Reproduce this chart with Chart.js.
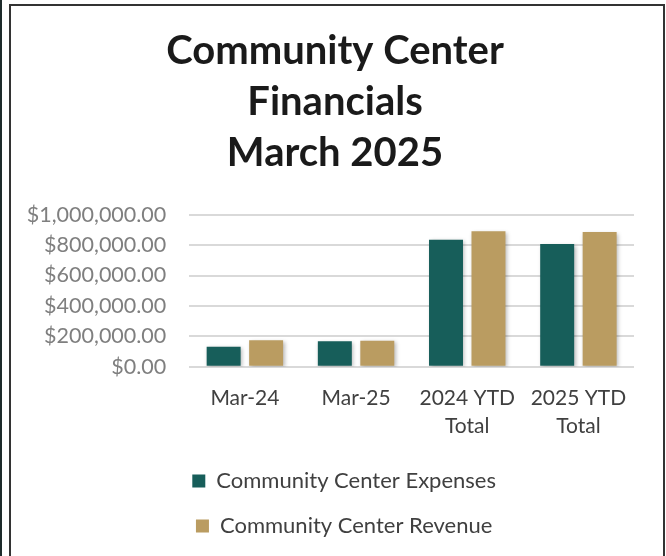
<!DOCTYPE html>
<html><head><meta charset="utf-8">
<script src="https://cdn.jsdelivr.net/npm/chart.js@4.4.1/dist/chart.umd.min.js"></script>
<style>
html,body{margin:0;padding:0;background:#fff;width:666px;height:556px;overflow:hidden;}
#wrap{position:absolute;left:0;top:0;width:666px;height:556px;}
#frame{position:absolute;left:9px;top:4px;width:652px;height:600px;border:2px solid #333;pointer-events:none;}
#edge{position:absolute;left:0;top:0;width:2px;height:556px;background:#1e2b2b;}
</style></head><body>
<div id="wrap"><canvas id="c" width="666" height="556" style="width:666px;height:556px"></canvas></div>
<div id="frame"></div><div id="edge"></div>
<script>
const titleLines = ['Community Center', 'Financials', 'March 2025'];
const categories = [['Mar-24'], ['Mar-25'], ['2024 YTD', 'Total'], ['2025 YTD', 'Total']];
const seriesNames = ['Community Center Expenses', 'Community Center Revenue'];
const expenses = [132000, 167000, 836000, 807000];
const revenue = [174000, 171000, 891000, 886000];
const yTickValues = [0, 200000, 400000, 600000, 800000, 1000000];
const yTickLabels = ['$0.00', '$200,000.00', '$400,000.00', '$600,000.00', '$800,000.00', '$1,000,000.00'];

const FONT = 'Lato, "Open Sans", sans-serif';

const shadowPlugin = {
  id: 'barShadow',
  beforeDatasetsDraw(chart) {
    const ctx = chart.ctx;
    ctx.save();
    ctx.shadowColor = 'rgba(0,0,0,0.28)';
    ctx.shadowBlur = 4;
    ctx.shadowOffsetX = 1.5;
    ctx.shadowOffsetY = 1.5;
  },
  afterDatasetsDraw(chart) { chart.ctx.restore(); }
};

const legendShift = {
  id: 'legendShift',
  afterLayout(chart) {
    const lg = chart.legend;
    if (!lg || !lg.lineWidths) return;
    const pad = lg.options.labels.padding;
    const itemW = lg.lineWidths[0] - pad;
    const boxX = (lg.left + lg.right) / 2 - itemW / 2;
    const dx = 192.3 - boxX;
    lg.left += dx; lg.right += dx;
  }
};

new Chart(document.getElementById('c'), {
  type: 'bar',
  data: {
    labels: categories,
    datasets: [
      { label: seriesNames[0], data: expenses, backgroundColor: '#175E5A', borderWidth: 0 },
      { label: seriesNames[1], data: revenue, backgroundColor: '#BA9C61', borderWidth: 0 }
    ]
  },
  options: {
    responsive: false,
    animation: false,
    devicePixelRatio: 1,
    categoryPercentage: 0.764,
    barPercentage: 0.8,
    layout: { padding: { left: 4, right: 0, top: 0, bottom: 9 } },
    plugins: {
      title: {
        display: true,
        text: titleLines,
        color: '#1a1a1a',
        font: { family: FONT, weight: 'bold', size: 40, lineHeight: 51 / 40 },
        padding: { top: 25.7, bottom: 36 }
      },
      legend: {
        position: 'bottom',
        labels: {
          color: '#404040',
          font: { family: FONT, size: 22 },
          boxWidth: 13, boxHeight: 13,
          padding: 23
        }
      },
      tooltip: { enabled: false }
    },
    scales: {
      x: {
        grid: { display: false, drawTicks: false },
        border: { display: false },
        ticks: { color: '#404040', font: { family: FONT, size: 21, lineHeight: 28 / 21 }, padding: 17.6, maxRotation: 0, autoSkip: false },
        afterFit(scale) { scale.height = 80.3; }
      },
      y: {
        min: 0, max: 1000000,
        grid: { color: '#d9d9d9', lineWidth: 2, drawTicks: false },
        border: { display: false },
        afterBuildTicks(scale) { scale.ticks = yTickValues.map(v => ({ value: v })); },
        ticks: {
          color: '#7f7f7f', font: { family: FONT, size: 21.5 }, padding: 23,
          callback(value, index) { return yTickLabels[index]; }
        },
        afterFit(scale) { scale.width = 185.3; }
      },
      yRight: {
        position: 'right',
        display: true,
        grid: { display: false, drawTicks: false },
        border: { display: false },
        ticks: { display: false },
        afterFit(scale) { scale.width = 32; }
      }
    }
  },
  plugins: [shadowPlugin, legendShift]
});
</script>
</body></html>
